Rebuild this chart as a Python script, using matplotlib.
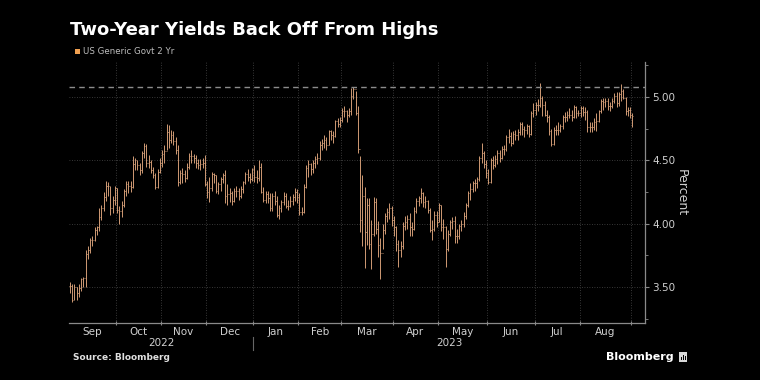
import matplotlib
matplotlib.use('Agg')
import matplotlib.pyplot as plt
import matplotlib.transforms as mtransforms
from matplotlib.patches import Rectangle
import numpy as np

# trading days per month, Sep 2022 .. Aug 2023, plus Sep 1 2023
month_labels = ['Sep', 'Oct', 'Nov', 'Dec', 'Jan', 'Feb', 'Mar', 'Apr', 'May', 'Jun', 'Jul', 'Aug']
month_days = [21, 20, 20, 21, 20, 19, 23, 20, 22, 21, 20, 23, 1]
year_labels = ['2022', '2023']

# US Generic Govt 2 Yr, daily high / low / close (percent)
highs = [
    3.54, 3.52, 3.52, 3.50, 3.52, 3.57, 3.58, 3.79, 3.82, 3.89, 3.90, 3.97, 3.98, 4.12, 4.15, 4.25, 4.34, 4.33, 4.30, 4.22, 4.30,  # Sep
    4.28, 4.14, 4.18, 4.27, 4.34, 4.34, 4.34, 4.53, 4.52, 4.50, 4.48, 4.57, 4.64, 4.63, 4.54, 4.50, 4.45, 4.40, 4.43, 4.52,  # Oct
    4.58, 4.62, 4.79, 4.78, 4.74, 4.73, 4.68, 4.62, 4.42, 4.44, 4.42, 4.48, 4.56, 4.58, 4.55, 4.54, 4.51, 4.51, 4.52, 4.54,  # Nov
    4.34, 4.37, 4.41, 4.40, 4.38, 4.33, 4.37, 4.40, 4.42, 4.31, 4.28, 4.26, 4.28, 4.30, 4.28, 4.30, 4.34, 4.41, 4.43, 4.40, 4.44,  # Dec
    4.46, 4.42, 4.50, 4.48, 4.29, 4.26, 4.26, 4.24, 4.24, 4.26, 4.22, 4.15, 4.19, 4.25, 4.24, 4.19, 4.22, 4.23, 4.28, 4.27,  # Jan
    4.24, 4.13, 4.31, 4.46, 4.50, 4.48, 4.50, 4.53, 4.56, 4.65, 4.67, 4.70, 4.68, 4.74, 4.74, 4.73, 4.82, 4.83, 4.84,  # Feb
    4.91, 4.93, 4.90, 4.91, 5.07, 5.08, 5.05, 4.93, 4.53, 4.38, 4.29, 4.20, 4.20, 4.03, 4.21, 4.20, 4.02, 3.89, 4.00, 4.08, 4.12, 4.16, 4.14,  # Mar
    4.06, 3.98, 3.87, 3.86, 4.01, 4.06, 4.07, 4.08, 4.01, 4.13, 4.20, 4.22, 4.28, 4.25, 4.22, 4.19, 4.12, 4.03, 4.10, 4.10,  # Apr
    4.16, 4.15, 4.04, 3.98, 3.95, 4.03, 4.05, 4.06, 3.96, 4.00, 4.03, 4.09, 4.16, 4.26, 4.32, 4.34, 4.35, 4.37, 4.53, 4.64, 4.57, 4.50,  # May
    4.43, 4.52, 4.53, 4.54, 4.58, 4.58, 4.61, 4.62, 4.70, 4.75, 4.72, 4.73, 4.74, 4.75, 4.80, 4.80, 4.77, 4.79, 4.78, 4.89, 4.95,  # Jun
    4.96, 4.98, 5.11, 5.01, 4.97, 4.90, 4.86, 4.75, 4.76, 4.78, 4.80, 4.79, 4.86, 4.88, 4.89, 4.91, 4.90, 4.94, 4.93, 4.90,  # Jul
    4.93, 4.93, 4.92, 4.90, 4.80, 4.80, 4.83, 4.87, 4.90, 4.98, 4.99, 4.99, 4.99, 4.96, 4.99, 5.03, 5.04, 5.04, 5.10, 5.06, 5.00, 4.92, 4.92,  # Aug
    4.87,  # Sep 1
]
lows = [
    3.45, 3.38, 3.40, 3.40, 3.42, 3.47, 3.50, 3.50, 3.72, 3.77, 3.82, 3.86, 3.91, 3.94, 4.03, 4.10, 4.18, 4.22, 4.07, 4.08, 4.15,
    4.08, 4.00, 4.05, 4.13, 4.22, 4.24, 4.25, 4.28, 4.42, 4.42, 4.38, 4.40, 4.52, 4.45, 4.44, 4.40, 4.36, 4.27, 4.28, 4.40,
    4.45, 4.48, 4.58, 4.60, 4.64, 4.62, 4.55, 4.30, 4.31, 4.32, 4.33, 4.35, 4.43, 4.48, 4.48, 4.44, 4.43, 4.42, 4.44, 4.30,
    4.20, 4.17, 4.26, 4.32, 4.24, 4.23, 4.26, 4.32, 4.16, 4.15, 4.17, 4.15, 4.17, 4.21, 4.19, 4.20, 4.24, 4.31, 4.34, 4.32, 4.34,
    4.33, 4.32, 4.34, 4.24, 4.17, 4.16, 4.16, 4.10, 4.10, 4.15, 4.05, 4.04, 4.09, 4.15, 4.12, 4.11, 4.13, 4.15, 4.18, 4.16,
    4.07, 4.07, 4.08, 4.28, 4.37, 4.38, 4.40, 4.44, 4.47, 4.50, 4.58, 4.60, 4.58, 4.62, 4.66, 4.64, 4.68, 4.76, 4.76,
    4.80, 4.84, 4.80, 4.84, 4.86, 4.98, 4.86, 4.56, 3.93, 3.82, 3.65, 3.83, 3.80, 3.64, 3.90, 3.92, 3.74, 3.56, 3.80, 3.92, 4.01, 4.04, 3.98,
    3.90, 3.78, 3.66, 3.74, 3.80, 3.95, 3.96, 3.90, 3.90, 3.95, 4.08, 4.14, 4.16, 4.13, 4.12, 4.08, 3.93, 3.87, 3.94, 3.97,
    4.01, 3.94, 3.88, 3.66, 3.78, 3.90, 3.96, 3.85, 3.85, 3.88, 3.94, 3.97, 4.04, 4.13, 4.19, 4.25, 4.26, 4.28, 4.34, 4.48, 4.44, 4.36,
    4.31, 4.32, 4.43, 4.45, 4.47, 4.49, 4.51, 4.54, 4.57, 4.64, 4.61, 4.63, 4.66, 4.66, 4.70, 4.70, 4.68, 4.71, 4.68, 4.70, 4.84,
    4.86, 4.89, 4.92, 4.85, 4.85, 4.80, 4.70, 4.61, 4.62, 4.70, 4.70, 4.72, 4.75, 4.80, 4.81, 4.83, 4.81, 4.83, 4.83, 4.85,
    4.84, 4.85, 4.82, 4.72, 4.72, 4.72, 4.74, 4.73, 4.80, 4.87, 4.90, 4.92, 4.90, 4.89, 4.91, 4.95, 4.92, 4.93, 4.97, 4.98, 4.86, 4.85, 4.83,
    4.76,
]
closes = [
    3.51, 3.40, 3.50, 3.45, 3.49, 3.56, 3.57, 3.76, 3.79, 3.87, 3.87, 3.95, 3.97, 4.05, 4.12, 4.21, 4.30, 4.30, 4.12, 4.19, 4.28,
    4.11, 4.10, 4.15, 4.26, 4.31, 4.30, 4.29, 4.47, 4.50, 4.46, 4.42, 4.56, 4.61, 4.48, 4.49, 4.42, 4.38, 4.29, 4.41, 4.48,
    4.55, 4.57, 4.72, 4.66, 4.70, 4.65, 4.58, 4.33, 4.40, 4.39, 4.36, 4.45, 4.53, 4.53, 4.52, 4.48, 4.46, 4.47, 4.48, 4.31,
    4.25, 4.28, 4.39, 4.38, 4.26, 4.31, 4.35, 4.38, 4.22, 4.23, 4.24, 4.18, 4.26, 4.26, 4.22, 4.27, 4.33, 4.39, 4.37, 4.35, 4.43,
    4.37, 4.36, 4.45, 4.25, 4.19, 4.23, 4.20, 4.12, 4.22, 4.18, 4.07, 4.12, 4.17, 4.22, 4.14, 4.14, 4.18, 4.21, 4.25, 4.21,
    4.09, 4.09, 4.29, 4.44, 4.47, 4.43, 4.48, 4.51, 4.52, 4.62, 4.64, 4.66, 4.62, 4.73, 4.70, 4.69, 4.81, 4.79, 4.82,
    4.89, 4.89, 4.86, 4.89, 5.01, 5.06, 4.87, 4.59, 4.03, 4.22, 3.93, 4.15, 3.84, 3.92, 4.17, 3.96, 3.83, 3.77, 3.95, 4.06, 4.09, 4.12, 4.03,
    3.97, 3.84, 3.79, 3.82, 3.98, 4.01, 4.04, 3.97, 3.96, 4.10, 4.18, 4.20, 4.24, 4.17, 4.18, 4.11, 3.95, 3.96, 4.07, 4.01,
    4.15, 3.97, 3.97, 3.80, 3.92, 4.01, 4.02, 3.90, 3.90, 3.98, 4.00, 4.06, 4.15, 4.24, 4.27, 4.32, 4.32, 4.35, 4.52, 4.56, 4.47, 4.40,
    4.33, 4.50, 4.46, 4.51, 4.56, 4.52, 4.59, 4.59, 4.68, 4.69, 4.64, 4.71, 4.70, 4.72, 4.79, 4.75, 4.74, 4.77, 4.71, 4.87, 4.90,
    4.94, 4.94, 4.99, 4.94, 4.86, 4.84, 4.73, 4.63, 4.74, 4.74, 4.74, 4.77, 4.84, 4.84, 4.86, 4.86, 4.84, 4.92, 4.87, 4.87,
    4.91, 4.88, 4.88, 4.76, 4.76, 4.76, 4.80, 4.81, 4.89, 4.97, 4.96, 4.97, 4.93, 4.93, 4.97, 5.01, 4.95, 5.02, 5.05, 4.99, 4.89, 4.90, 4.86,
    4.85,
]
high_mark = 5.08
y_ticks = [3.5, 4.0, 4.5, 5.0]

n = len(closes)
assert len(highs) == n and len(lows) == n and sum(month_days) == n
x = np.arange(n)
opens = [closes[0]] + closes[:-1]

W, H = 760, 380
fig = plt.figure(figsize=(7.6, 3.8), dpi=100, facecolor='black')
ax = fig.add_axes([69 / W, 57 / H, 576 / W, 261 / H], facecolor='black')

bar_col = '#d09a74'
ax.vlines(x, lows, highs, color=bar_col, lw=0.7)
ax.hlines(opens, x - 0.4, x, color=bar_col, lw=0.6)
ax.hlines(closes, x, x + 0.4, color=bar_col, lw=0.6)

ax.set_xlim(-0.4, 255.6)
ax.set_ylim(3.215, 5.276)

# month boundaries and label centres
ends = np.cumsum(month_days)
bounds = ends[:-1] - 0.5
starts = np.concatenate([[-0.5], bounds[:-1]])
centres = (starts + bounds) / 2

grid_col = '#4a4a4a'
for b in bounds:
    ax.axvline(b, color=grid_col, lw=0.6, ls=(0, (1, 2)), zorder=0)
for t in y_ticks:
    ax.axhline(t, color=grid_col, lw=0.6, ls=(0, (1, 2)), zorder=0)
ax.axhline(high_mark, color='#8c8c8c', lw=1.0, ls=(0, (4, 3)))

for s in ['top', 'left']:
    ax.spines[s].set_visible(False)
for s in ['bottom', 'right']:
    ax.spines[s].set_color('#8a8a8a')
    ax.spines[s].set_linewidth(0.9)

ax.set_xticks(bounds)
ax.set_xticklabels([])
ax.set_xticks(centres, minor=True)
ax.set_xticklabels(month_labels, minor=True)
ax.tick_params(axis='x', which='major', length=3, direction='inout', color='#8a8a8a')
ax.tick_params(axis='x', which='minor', length=0, pad=3, labelsize=7.5, labelcolor='#d0d0d0')

ax.yaxis.tick_right()
ax.set_yticks(y_ticks)
ax.set_yticklabels(['%.2f' % t for t in y_ticks])
ax.set_yticks([3.25, 3.75, 4.25, 4.75, 5.25], minor=True)
ax.tick_params(axis='y', which='major', length=3, color='#8a8a8a', pad=2,
               labelsize=7.5, labelcolor='#d0d0d0')
ax.tick_params(axis='y', which='minor', length=2, color='#8a8a8a')
ax.yaxis.set_label_position('right')
ax.set_ylabel('Percent', rotation=270, color='#d0d0d0', fontsize=9, labelpad=9)

# year labels and separator
trans = mtransforms.blended_transform_factory(ax.transData, ax.transAxes)
jan = bounds[3]
ax.plot([jan, jan], [-0.054, -0.103], transform=trans, color='#666666', lw=0.8, clip_on=False)
ax.text((starts[0] + jan) / 2, -0.077, year_labels[0], transform=trans, ha='center', va='center',
        fontsize=7.5, color='#d0d0d0')
ax.text((jan + 255.6) / 2, -0.077, year_labels[1], transform=trans, ha='center', va='center',
        fontsize=7.5, color='#d0d0d0')

# title, legend, footer
fig.text(70 / W, 1 - 35 / H, 'Two-Year Yields Back Off From Highs', fontsize=13,
         fontweight='bold', color='white', va='baseline')
fig.patches.append(Rectangle((75 / W, 1 - 54 / H), 5 / W, 5 / H, transform=fig.transFigure,
                             facecolor='#f0a050', edgecolor='none'))
fig.text(83 / W, 1 - 51.5 / H, 'US Generic Govt 2 Yr', fontsize=6.2, color='#bdbdbd', va='center')
fig.text(73 / W, 1 - 358 / H, 'Source: Bloomberg', fontsize=6.5, fontweight='bold',
         color='#e0e0e0', va='center')
fig.text(674 / W, 1 - 357 / H, 'Bloomberg', fontsize=8, fontweight='semibold',
         color='white', va='center', ha='right')
fig.patches.append(Rectangle((679 / W, 1 - 362 / H), 8 / W, 10 / H, transform=fig.transFigure,
                             facecolor='#d8d8d8', edgecolor='none'))
for i, hgt in enumerate([3, 5, 4]):
    fig.patches.append(Rectangle(((680.5 + i * 2) / W, 1 - 360 / H), 1 / W, hgt / H,
                                 transform=fig.transFigure, facecolor='black', edgecolor='none'))

fig.savefig('out.png', dpi=100, facecolor='black')
